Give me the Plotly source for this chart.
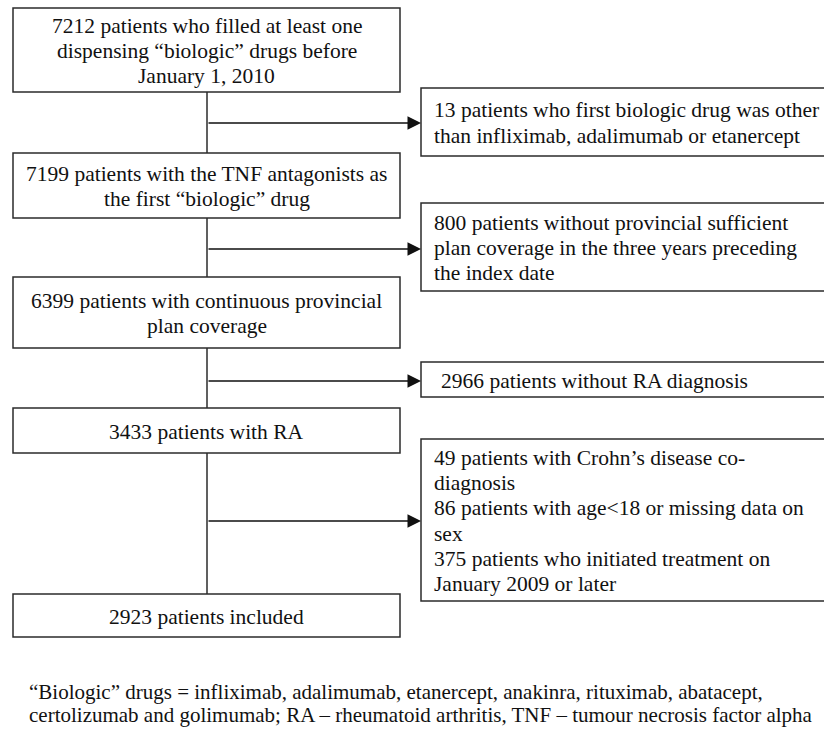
import plotly.graph_objects as go

# ---- content ----
main_steps = [
    "7212 patients who filled at least one\ndispensing “biologic” drugs before\nJanuary 1, 2010",
    "7199 patients with the TNF antagonists as\nthe first “biologic” drug",
    "6399 patients with continuous provincial\nplan coverage",
    "3433 patients with RA",
    "2923 patients included",
]
exclusions = [
    "13 patients who first biologic drug was other\nthan infliximab, adalimumab or etanercept",
    "800 patients without provincial sufficient\nplan coverage in the three years preceding\nthe index date",
    "2966 patients without RA diagnosis",
    "49 patients with Crohn’s disease co-\ndiagnosis\n86 patients with age<18 or missing data on\nsex\n375 patients who initiated treatment on\nJanuary 2009 or later",
]
footnote_lines = [
    "“Biologic” drugs = infliximab, adalimumab, etanercept, anakinra, rituximab, abatacept,",
    "certolizumab and golimumab; RA – rheumatoid arthritis, TNF – tumour necrosis factor alpha",
]

# ---- layout geometry (pixel-like coordinates) ----
main_box_x = (13, 400)
main_box_y = [(8, 92), (153, 218), (277, 348), (408, 453), (594, 637)]
excl_box_x = (421, 830)
excl_box_y = [(88, 156), (203, 291), (362, 397), (439, 601)]
excl_text_x = [432, 432, 439, 432]
arrow_y = [123, 249, 381, 521]
spine_x = 207
footnote_y = [692, 715]
LINE_STEP = 25.2
BOX_FONT = 21.5
NOTE_FONT = 21

LINE = "#2b2b2b"
TEXT = "#111111"
FONT = "'Liberation Serif', 'Times New Roman', 'DejaVu Serif', serif"

fig = go.Figure()
shapes = []
annotations = []


def add_lines(txt, x, yc, xanchor):
    lines = txt.split("\n")
    n = len(lines)
    for i, ln in enumerate(lines):
        annotations.append(dict(x=x, y=yc + (i - (n - 1) / 2) * LINE_STEP + 1, xref="x", yref="y",
                                text=ln, showarrow=False, xanchor=xanchor, yanchor="middle",
                                font=dict(family=FONT, size=BOX_FONT, color=TEXT)))


for (y0, y1), txt in zip(main_box_y, main_steps):
    shapes.append(dict(type="rect", xref="x", yref="y", x0=main_box_x[0], x1=main_box_x[1],
                       y0=y0, y1=y1, line=dict(color=LINE, width=1.5), fillcolor="white"))
    add_lines(txt, (main_box_x[0] + main_box_x[1]) / 2, (y0 + y1) / 2, "center")

for (y0, y1), tx, txt in zip(excl_box_y, excl_text_x, exclusions):
    shapes.append(dict(type="rect", xref="x", yref="y", x0=excl_box_x[0], x1=excl_box_x[1],
                       y0=y0, y1=y1, line=dict(color=LINE, width=1.5), fillcolor="white"))
    add_lines(txt, tx, (y0 + y1) / 2, "left")

# vertical connectors between main boxes
for (a0, a1), (b0, b1) in zip(main_box_y[:-1], main_box_y[1:]):
    shapes.append(dict(type="line", xref="x", yref="y", x0=spine_x, x1=spine_x, y0=a1, y1=b0,
                       line=dict(color=LINE, width=1.5)))

# horizontal arrows to exclusion boxes
for ay in arrow_y:
    annotations.append(dict(x=excl_box_x[0], y=ay, ax=spine_x, ay=ay, xref="x", yref="y",
                            axref="x", ayref="y", text="", showarrow=True, arrowhead=2,
                            arrowsize=1.8, arrowwidth=1.5, arrowcolor=TEXT, standoff=0))

for fy, txt in zip(footnote_y, footnote_lines):
    annotations.append(dict(x=27, y=fy, xref="x", yref="y", text=txt, showarrow=False,
                            xanchor="left", yanchor="middle",
                            font=dict(family=FONT, size=NOTE_FONT, color=TEXT)))

fig.update_layout(
    width=824, height=730,
    margin=dict(l=0, r=0, t=0, b=0),
    paper_bgcolor="white", plot_bgcolor="white",
    xaxis=dict(range=[0, 824], visible=False, fixedrange=True),
    yaxis=dict(range=[730, 0], visible=False, fixedrange=True),
    shapes=shapes, annotations=annotations, showlegend=False,
)

fig.write_html("out.html", post_script="document.body.style.margin='0px';",
               config={"displayModeBar": False})
